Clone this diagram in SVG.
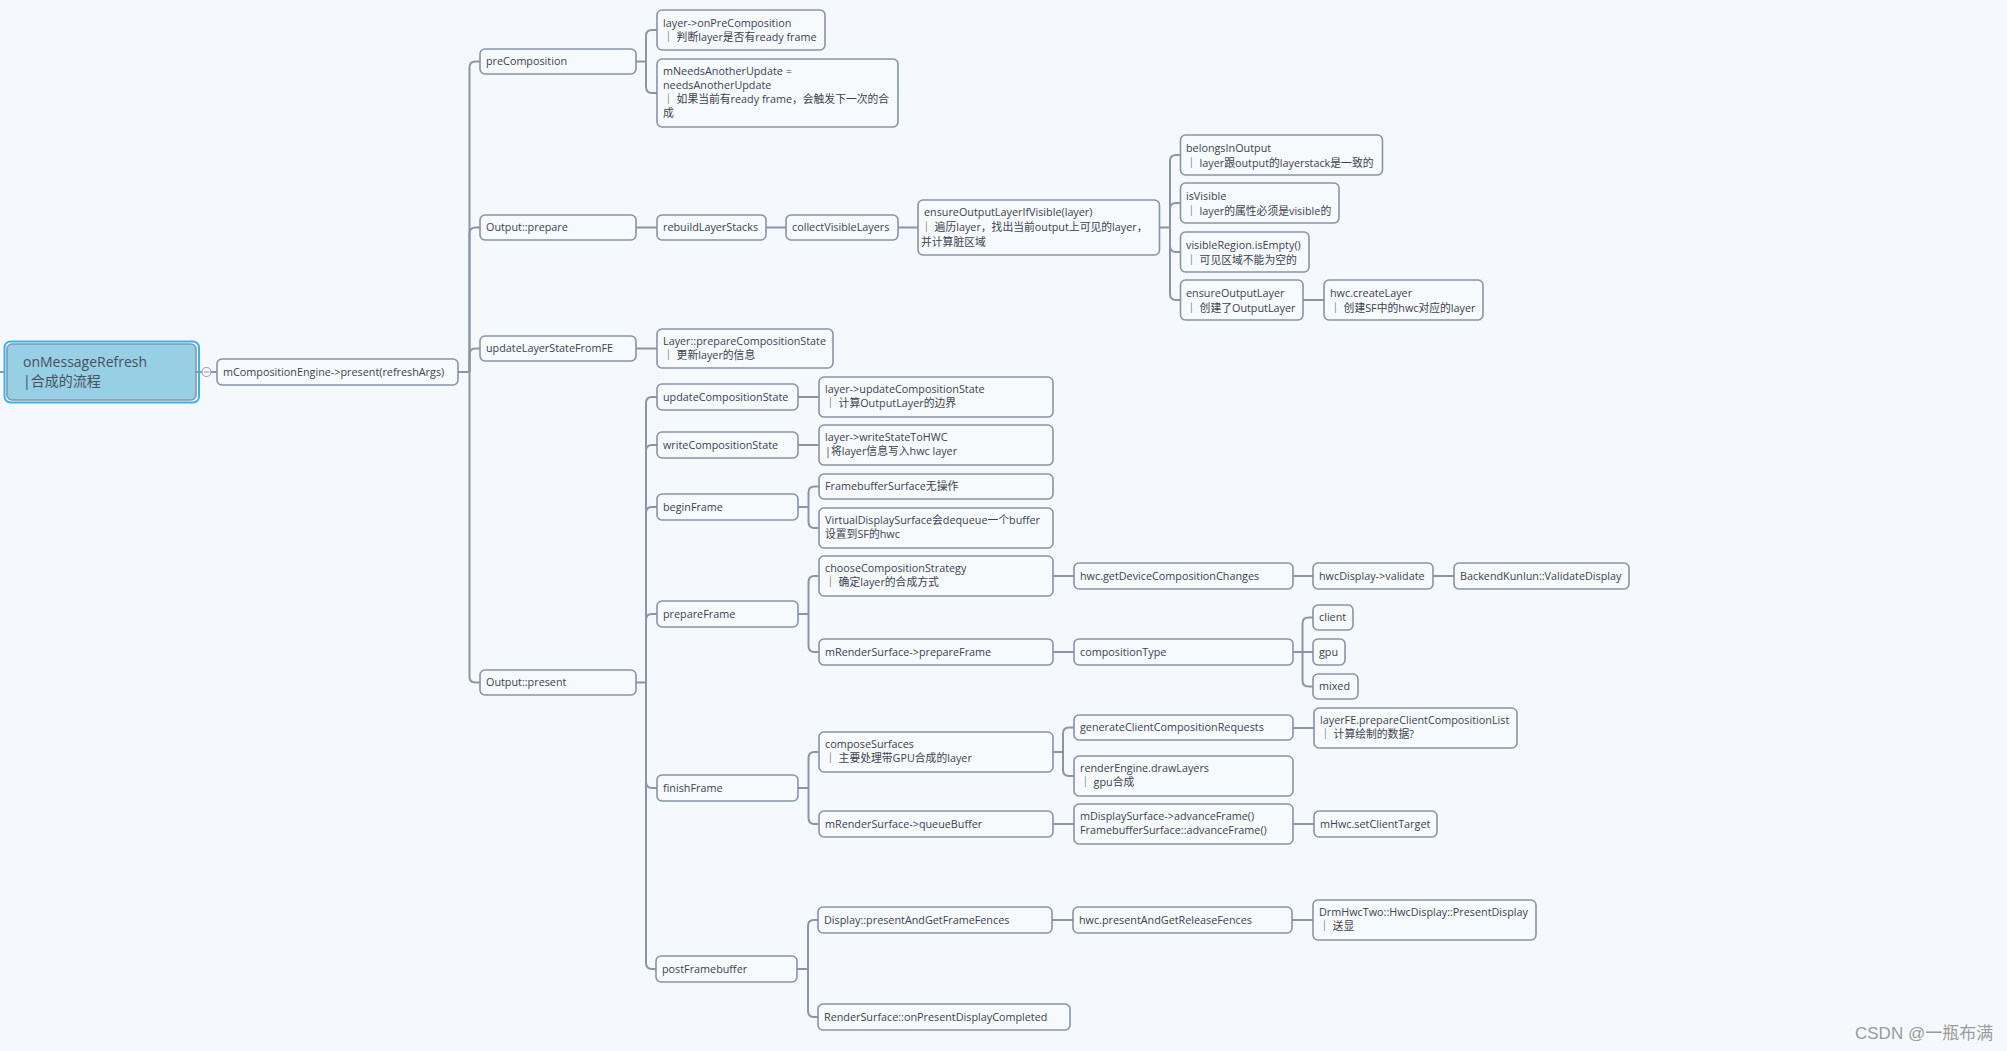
<svg xmlns="http://www.w3.org/2000/svg" width="2007" height="1051" viewBox="0 0 2007 1051">
<style>
.bg{fill:#F5F9FD}
.n rect{fill:#F6FAFD;stroke:#8A93A6;stroke-width:1.6}
.n text,.t{font-family:"Open Sans","Noto Sans CJK SC",sans-serif;font-size:10.8px;fill:#3C414E}
.c path{fill:none;stroke:#8C95A7;stroke-width:2}
.root text{font-family:"Open Sans","Noto Sans CJK SC",sans-serif;font-size:14px;fill:#48505E}
.wm{font-family:"Liberation Sans","Noto Sans CJK SC",sans-serif;font-size:17px;fill:#9A9A9A}
</style>
<rect class="bg" x="0" y="0" width="2007" height="1051"/>

<g class="c" id="connectors">
<path d="M0,372 H5"/>
<path d="M196,372 H202 M211,372 H217"/>
<path d="M458,372 H469.5"/>
<path d="M469.5,372 V67.5 Q469.5,61.5 475.5,61.5 H480"/>
<path d="M469.5,372 V233.5 Q469.5,227.5 475.5,227.5 H480"/>
<path d="M469.5,372 V354.5 Q469.5,348.5 475.5,348.5 H480"/>
<path d="M469.5,372 V676.5 Q469.5,682.5 475.5,682.5 H480"/>
<path d="M636,61.5 H646"/>
<path d="M646,61.5 V36 Q646,30 652,30 H657"/>
<path d="M646,61.5 V87 Q646,93 652,93 H657"/>
<path d="M636,227.5 H657 M766,227.5 H786 M898,227.5 H918"/>
<path d="M1159.5,227.5 H1170"/>
<path d="M1170,227.5 V161 Q1170,155 1176,155 H1180.5"/>
<path d="M1170,227.5 V209 Q1170,203 1176,203 H1180.5"/>
<path d="M1170,227.5 V246 Q1170,252 1176,252 H1180.5"/>
<path d="M1170,227.5 V294 Q1170,300 1176,300 H1180.5"/>
<path d="M1303,300 H1324"/>
<path d="M636,348.5 H657"/>
<path d="M636,682.5 H646"/>
<path d="M646,682.5 V403 Q646,397 652,397 H657"/>
<path d="M646,682.5 V451 Q646,445 652,445 H657"/>
<path d="M646,682.5 V513 Q646,507 652,507 H657"/>
<path d="M646,682.5 V620 Q646,614 652,614 H657"/>
<path d="M646,682.5 V782 Q646,788 652,788 H657"/>
<path d="M646,682.5 V963 Q646,969 652,969 H657"/>
<path d="M798,397 H819 M798,445 H819"/>
<path d="M798,507 H808.5"/>
<path d="M808.5,507 V492.5 Q808.5,486.5 814.5,486.5 H819"/>
<path d="M808.5,507 V522 Q808.5,528 814.5,528 H819"/>
<path d="M798,614 H808.5"/>
<path d="M808.5,614 V582 Q808.5,576 814.5,576 H819"/>
<path d="M808.5,614 V646 Q808.5,652 814.5,652 H819"/>
<path d="M798,788 H808.5"/>
<path d="M808.5,788 V758 Q808.5,752 814.5,752 H819"/>
<path d="M808.5,788 V818 Q808.5,824 814.5,824 H819"/>
<path d="M797,969 H808"/>
<path d="M808,969 V926 Q808,920 814,920 H818"/>
<path d="M808,969 V1011 Q808,1017 814,1017 H818"/>
<path d="M1053,576 H1074 M1053,652 H1074 M1053,824 H1074 M1052,920 H1073"/>
<path d="M1053,752 H1063"/>
<path d="M1063,752 V733.5 Q1063,727.5 1069,727.5 H1074"/>
<path d="M1063,752 V770 Q1063,776 1069,776 H1074"/>
<path d="M1293,576 H1313 M1433,576 H1454"/>
<path d="M1293,652 H1313"/>
<path d="M1302.5,652 V623.5 Q1302.5,617.5 1308.5,617.5 H1313"/>
<path d="M1302.5,652 V680.5 Q1302.5,686.5 1308.5,686.5 H1313"/>
<path d="M1293,728 H1314 M1293,824 H1314 M1292,920 H1313"/>
</g>

<g class="root" id="onMessageRefresh">
<rect x="4.5" y="341.5" width="194.5" height="61" rx="6" fill="none" stroke="#38B3F0" stroke-width="2"/>
<rect x="7" y="344" width="189" height="56" rx="5" fill="#97CFE5" stroke="#8A94A6" stroke-width="1.6"/>
<text x="23" y="367">onMessageRefresh</text>
<text x="23" y="386">|合成的流程</text>
</g>
<g id="collapse">
<circle cx="206.5" cy="372" r="4.5" fill="#F5F9FD" stroke="#9AA2B2" stroke-width="1.2"/>
<path d="M204,372 H209" stroke="#9AA2B2" stroke-width="1.2"/>
</g>

<g class="n" id="present"><rect x="217" y="359" width="241" height="26" rx="5"/><text x="223" y="376">mCompositionEngine-&gt;present(refreshArgs)</text></g>

<g class="n" id="preComposition"><rect x="480" y="49" width="156" height="25" rx="5"/><text x="486" y="65">preComposition</text></g>
<g class="n" id="outputPrepare"><rect x="480" y="215" width="156" height="25" rx="5"/><text x="486" y="231">Output::prepare</text></g>
<g class="n" id="updateLayerStateFromFE"><rect x="480" y="336" width="156" height="25" rx="5"/><text x="486" y="352">updateLayerStateFromFE</text></g>
<g class="n" id="outputPresent"><rect x="480" y="670" width="156" height="25" rx="5"/><text x="486" y="686">Output::present</text></g>

<g class="n" id="onPreComposition"><rect x="657" y="10" width="168" height="40" rx="5"/><text x="663" y="27">layer-&gt;onPreComposition</text><text x="663" y="41">｜ 判断layer是否有ready frame</text></g>
<g class="n" id="mNeedsAnotherUpdate"><rect x="657" y="59" width="241" height="68" rx="5"/><text x="663" y="75">mNeedsAnotherUpdate =</text><text x="663" y="89">needsAnotherUpdate</text><text x="663" y="103">｜ 如果当前有ready frame，会触发下一次的合</text><text x="663" y="117">成</text></g>

<g class="n" id="rebuildLayerStacks"><rect x="657" y="215" width="109" height="25" rx="5"/><text x="663" y="231">rebuildLayerStacks</text></g>
<g class="n" id="collectVisibleLayers"><rect x="786" y="215" width="112" height="25" rx="5"/><text x="792" y="231">collectVisibleLayers</text></g>
<g class="n" id="ensureOutputLayerIfVisible"><rect x="918" y="200" width="241.5" height="55" rx="5"/><text x="924" y="216"> ensureOutputLayerIfVisible(layer)</text><text x="921" y="231">｜ 遍历layer，找出当前output上可见的layer，</text><text x="921" y="246">并计算脏区域</text></g>
<g class="n" id="belongsInOutput"><rect x="1180.5" y="135" width="202" height="40" rx="5"/><text x="1186" y="152">belongsInOutput</text><text x="1186" y="167">｜ layer跟output的layerstack是一致的</text></g>
<g class="n" id="isVisible"><rect x="1180.5" y="183" width="158.5" height="40" rx="5"/><text x="1186" y="200"> isVisible</text><text x="1186" y="215">｜ layer的属性必须是visible的</text></g>
<g class="n" id="visibleRegion"><rect x="1180.5" y="232" width="128.5" height="40" rx="5"/><text x="1186" y="249">visibleRegion.isEmpty()</text><text x="1186" y="264">｜ 可见区域不能为空的</text></g>
<g class="n" id="ensureOutputLayer"><rect x="1180.5" y="280" width="122.5" height="40" rx="5"/><text x="1186" y="297">ensureOutputLayer</text><text x="1186" y="312">｜ 创建了OutputLayer</text></g>
<g class="n" id="hwcCreateLayer"><rect x="1324" y="280" width="159" height="40" rx="5"/><text x="1330" y="297">hwc.createLayer</text><text x="1330" y="312">｜ 创建SF中的hwc对应的layer</text></g>

<g class="n" id="prepareCompositionState"><rect x="657" y="329" width="176" height="39" rx="5"/><text x="663" y="345">Layer::prepareCompositionState</text><text x="663" y="359">｜ 更新layer的信息</text></g>

<g class="n" id="updateCompositionState"><rect x="657" y="384" width="141" height="26" rx="5"/><text x="663" y="400.5">updateCompositionState</text></g>
<g class="n" id="writeCompositionState"><rect x="657" y="432" width="141" height="26" rx="5"/><text x="663" y="448.5">writeCompositionState</text></g>
<g class="n" id="beginFrame"><rect x="657" y="494" width="141" height="26" rx="5"/><text x="663" y="510.5">beginFrame</text></g>
<g class="n" id="prepareFrame"><rect x="657" y="601" width="141" height="26" rx="5"/><text x="663" y="617.5">prepareFrame</text></g>
<g class="n" id="finishFrame"><rect x="657" y="775" width="141" height="26" rx="5"/><text x="663" y="791.5">finishFrame</text></g>
<g class="n" id="postFramebuffer"><rect x="656" y="956" width="141" height="26" rx="5"/><text x="662" y="972.5">postFramebuffer</text></g>

<g class="n" id="layerUpdateCompositionState"><rect x="819" y="377" width="234" height="40" rx="5"/><text x="825" y="393">layer-&gt;updateCompositionState</text><text x="825" y="407">｜ 计算OutputLayer的边界</text></g>
<g class="n" id="writeStateToHWC"><rect x="819" y="425" width="234" height="40" rx="5"/><text x="825" y="441">layer-&gt;writeStateToHWC</text><text x="825" y="455">|将layer信息写入hwc layer</text></g>
<g class="n" id="framebufferSurface"><rect x="819" y="474" width="234" height="25" rx="5"/><text x="825" y="490">FramebufferSurface无操作</text></g>
<g class="n" id="virtualDisplaySurface"><rect x="819" y="508" width="234" height="40" rx="5"/><text x="825" y="524">VirtualDisplaySurface会dequeue一个buffer</text><text x="825" y="538">设置到SF的hwc</text></g>
<g class="n" id="chooseCompositionStrategy"><rect x="819" y="556" width="234" height="40" rx="5"/><text x="825" y="572">chooseCompositionStrategy</text><text x="825" y="586">｜ 确定layer的合成方式</text></g>
<g class="n" id="renderSurfacePrepareFrame"><rect x="819" y="639" width="234" height="26" rx="5"/><text x="825" y="655.5">mRenderSurface-&gt;prepareFrame</text></g>
<g class="n" id="composeSurfaces"><rect x="819" y="732" width="234" height="40" rx="5"/><text x="825" y="748">composeSurfaces</text><text x="825" y="762">｜ 主要处理带GPU合成的layer</text></g>
<g class="n" id="queueBuffer"><rect x="819" y="811" width="234" height="26" rx="5"/><text x="825" y="827.5">mRenderSurface-&gt;queueBuffer</text></g>
<g class="n" id="presentAndGetFrameFences"><rect x="818" y="907" width="234" height="26" rx="5"/><text x="824" y="923.5">Display::presentAndGetFrameFences</text></g>
<g class="n" id="onPresentDisplayCompleted"><rect x="818" y="1004" width="252" height="26" rx="5"/><text x="824" y="1020.5">RenderSurface::onPresentDisplayCompleted</text></g>

<g class="n" id="getDeviceCompositionChanges"><rect x="1074" y="563" width="219" height="26" rx="5"/><text x="1080" y="579.5">hwc.getDeviceCompositionChanges</text></g>
<g class="n" id="compositionType"><rect x="1074" y="639" width="219" height="26" rx="5"/><text x="1080" y="655.5">compositionType</text></g>
<g class="n" id="generateClientCompositionRequests"><rect x="1074" y="715" width="219" height="25" rx="5"/><text x="1080" y="731">generateClientCompositionRequests</text></g>
<g class="n" id="drawLayers"><rect x="1074" y="756" width="219" height="40" rx="5"/><text x="1080" y="772">renderEngine.drawLayers</text><text x="1080" y="786">｜ gpu合成</text></g>
<g class="n" id="advanceFrame"><rect x="1074" y="804" width="219" height="40" rx="5"/><text x="1080" y="820">mDisplaySurface-&gt;advanceFrame()</text><text x="1080" y="834">FramebufferSurface::advanceFrame()</text></g>
<g class="n" id="presentAndGetReleaseFences"><rect x="1073" y="907" width="219" height="26" rx="5"/><text x="1079" y="923.5">hwc.presentAndGetReleaseFences</text></g>

<g class="n" id="hwcDisplayValidate"><rect x="1313" y="563" width="120" height="26" rx="5"/><text x="1319" y="579.5">hwcDisplay-&gt;validate</text></g>
<g class="n" id="validateDisplay"><rect x="1454" y="563" width="175" height="26" rx="5"/><text x="1460" y="579.5">BackendKunlun::ValidateDisplay</text></g>
<g class="n" id="client"><rect x="1313" y="605" width="40" height="25" rx="5"/><text x="1319" y="621">client</text></g>
<g class="n" id="gpu"><rect x="1313" y="639" width="32" height="26" rx="5"/><text x="1319" y="655.5">gpu</text></g>
<g class="n" id="mixed"><rect x="1313" y="674" width="45" height="25" rx="5"/><text x="1319" y="690">mixed</text></g>
<g class="n" id="prepareClientCompositionList"><rect x="1314" y="708" width="203" height="40" rx="5"/><text x="1320" y="724">layerFE.prepareClientCompositionList</text><text x="1320" y="738">｜ 计算绘制的数据?</text></g>
<g class="n" id="setClientTarget"><rect x="1314" y="811" width="123" height="26" rx="5"/><text x="1320" y="827.5">mHwc.setClientTarget</text></g>
<g class="n" id="presentDisplay"><rect x="1313" y="900" width="223" height="40" rx="5"/><text x="1319" y="916">DrmHwcTwo::HwcDisplay::PresentDisplay</text><text x="1319" y="930">｜ 送显</text></g>

<text class="wm" x="1855" y="1039">CSDN @一瓶布满</text>
</svg>
